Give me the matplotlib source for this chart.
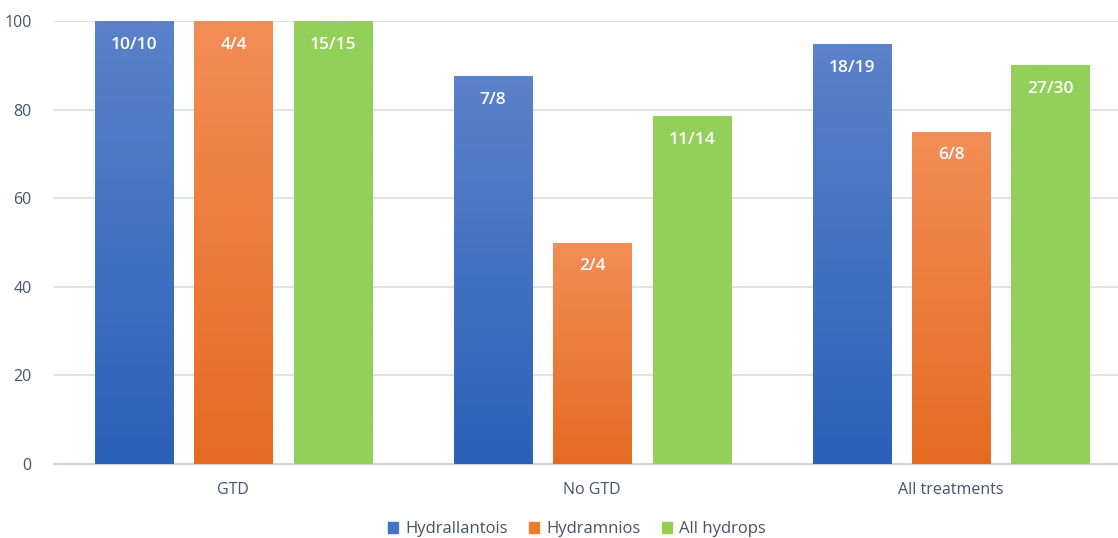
import matplotlib.pyplot as plt
import numpy as np
from matplotlib.colors import LinearSegmentedColormap

groups = ['GTD', 'No GTD', 'All treatments']
series = ['Hydrallantois', 'Hydramnios', 'All hydrops']
# responders / total per group, one list per series
responders = [[10, 7, 18], [4, 2, 6], [15, 11, 27]]
totals = [[10, 8, 19], [4, 4, 8], [15, 14, 30]]

# (top colour, bottom colour) for each series
shades = [('#5b82ca', '#2b61b8'), ('#f38d57', '#e46b21'), ('#92d05a', '#92d05a')]
legend_colors = ['#4472c4', '#ed7d31', '#92d050']
text_color = '#44546a'

plt.rcParams['font.family'] = ['Open Sans', 'DejaVu Sans']

fig = plt.figure(figsize=(11.18, 5.38), dpi=100)
ax = fig.add_axes([0.0483, 0.1375, 0.9629, 0.8234])

x = np.arange(len(groups))
width = 0.218
step = 0.277

for i, name in enumerate(series):
    heights = [100 * n / d for n, d in zip(responders[i], totals[i])]
    pos = x + (i - 1) * step
    bars = ax.bar(pos, heights, width, color=legend_colors[i], label=name,
                  zorder=2, edgecolor='none')
    cmap = LinearSegmentedColormap.from_list('g%d' % i, [shades[i][1], shades[i][0]])
    grad = np.linspace(0, 1, 256).reshape(-1, 1)
    for b, h, n, d in zip(bars, heights, responders[i], totals[i]):
        # gradient runs over each bar's own height
        im = ax.imshow(grad, cmap=cmap, vmin=0, vmax=1, origin='lower', aspect='auto',
                       extent=[b.get_x(), b.get_x() + width, 0, h], zorder=3)
        im.set_clip_path(b)
        ax.annotate(f'{n}/{d}', (b.get_x() + width / 2, h), xytext=(0, -17),
                    textcoords='offset points', ha='center', va='center',
                    color='white', fontsize=12.5, fontweight='semibold', zorder=4)

ax.set_xlim(-0.5, 2.5)
ax.set_ylim(0, 100)
ax.set_yticks(range(0, 101, 20))
ax.set_xticks(x)
ax.set_xticklabels(groups)
ax.grid(axis='y', color='#d9dde4', linewidth=1.2, zorder=0)
ax.set_axisbelow(True)
for s in ['top', 'right', 'left']:
    ax.spines[s].set_visible(False)
ax.spines['bottom'].set_color('#d0d5dc')
ax.spines['bottom'].set_linewidth(1.5)
ax.tick_params(axis='both', length=0, colors=text_color, labelsize=11.5)
ax.tick_params(axis='y', pad=16)
ax.tick_params(axis='x', pad=13)

handles = [plt.Rectangle((0, 0), 1, 1, color=c) for c in legend_colors]
fig.legend(handles, series, loc='center', bbox_to_anchor=(0.516, 0.016), ncol=3,
           frameon=False, fontsize=12, handlelength=0.6, handleheight=0.6,
           handletextpad=0.4, columnspacing=1.3, labelcolor=text_color)

fig.savefig('out.png', dpi=100)
